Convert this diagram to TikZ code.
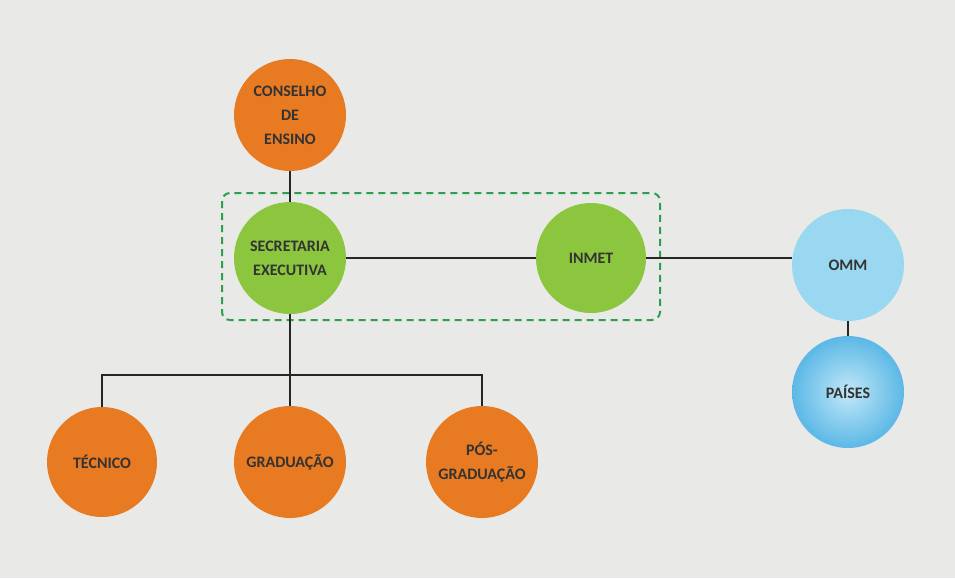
\documentclass[tikz,border=0pt]{standalone}
\usepackage{fontspec}
\setmainfont{Carlito}
\definecolor{bg}{HTML}{E9E9E7}
\definecolor{org}{HTML}{E87A22}
\definecolor{grn}{HTML}{8CC63F}
\definecolor{blu}{HTML}{9AD8F2}
\definecolor{blu2}{HTML}{5BB8E6}
\definecolor{dgrn}{HTML}{2E9E4F}
\begin{document}
\begin{tikzpicture}[x=1pt,y=-1pt,
  circ/.style={circle,minimum size=112pt,inner sep=0pt,align=center,font=\bfseries\fontsize{16}{24}\selectfont,text=black!80},
  orange/.style={circ,fill=org},
  green/.style={circ,fill=grn},
  blue/.style={circ,fill=blu},
  conn/.style={line width=2pt,black!85}]
\fill[bg] (0,0) rectangle (955,578);
\useasboundingbox (0,0) rectangle (955,578);
\node[orange] (cons) at (290,115) {CONSELHO\\DE\\ENSINO};
\node[green] (sec) at (290,258) {SECRETARIA\\EXECUTIVA};
\node[green,minimum size=110pt] (inmet) at (591,258) {INMET};
\node[blue] (omm) at (848,265) {OMM};
\node[circ,inner color=blu!60,outer color=blu2] (pais) at (848,392) {PAÍSES};
\node[orange,minimum size=110pt] (tec) at (102,462) {TÉCNICO};
\node[orange] (grad) at (290,462) {GRADUAÇÃO};
\node[orange] (pos) at (482,462) {PÓS-\\GRADUAÇÃO};
\draw[dgrn,dashed,line width=2pt,dash pattern=on 7pt off 5pt,rounded corners=8pt] (222,193) rectangle (660,320);
\coordinate (j) at (290,375);
\draw[conn] (cons) -- (sec);
\draw[conn] (sec) -- (inmet);
\draw[conn] (inmet.east) -- (inmet.east -| omm.west);
\draw[conn] (omm) -- (pais);
\draw[conn] (sec) -- (j);
\draw[conn] (tec) -- (tec.north |- j) -- (pos.north |- j) -- (pos);
\draw[conn] (j) -- (grad);
\end{tikzpicture}
\end{document}
